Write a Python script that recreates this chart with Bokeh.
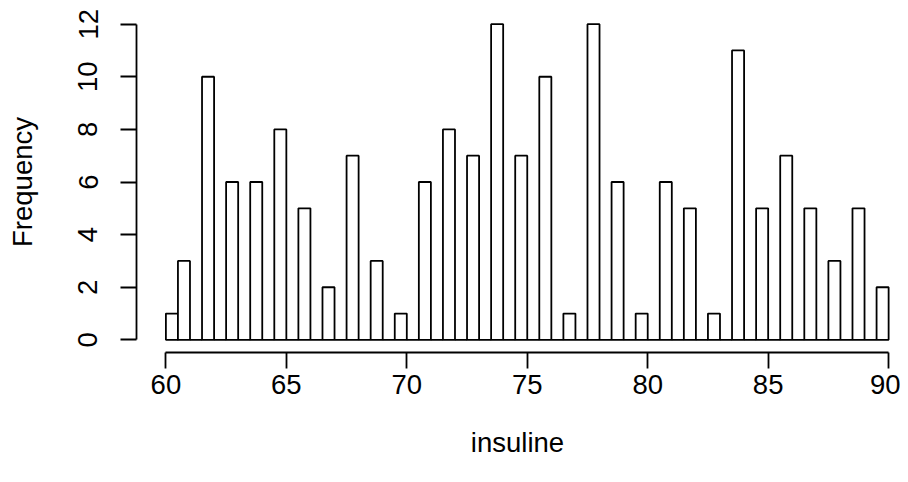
import numpy as np
from bokeh.plotting import figure
from bokeh.models import Range1d, FixedTicker
from bokeh.embed import file_html
from bokeh.resources import INLINE

# Histogram of "insuline": breaks every 0.5 from 60 to 90
break_start = 60.0
break_width = 0.5
counts = [1, 3, 0, 10, 0, 6, 0, 6, 0, 8,
          0, 5, 0, 2, 0, 7, 0, 3, 0, 1,
          0, 6, 0, 8, 0, 7, 0, 12, 0, 7,
          0, 10, 0, 1, 0, 12, 0, 6, 0, 1,
          0, 6, 0, 5, 0, 1, 0, 11, 0, 5,
          0, 7, 0, 5, 0, 3, 0, 5, 0, 2]
x_ticks = [60, 65, 70, 75, 80, 85, 90]
y_ticks = [0, 2, 4, 6, 8, 10, 12]
x_label = "insuline"
y_label = "Frequency"

n = len(counts)
lefts = [break_start + i * break_width for i in range(n)]
rights = [l + break_width for l in lefts]

FONT = "Liberation Sans"
FS = "27.5px"

p = figure(width=900, height=474,
           x_range=Range1d(58.78, 90.41), y_range=Range1d(-0.48, 12.48),
           output_backend="svg", toolbar_location=None,
           min_border_left=136, min_border_top=11, min_border_right=2,
           min_border_bottom=122)
p.outline_line_color = None
p.grid.visible = False
p.background_fill_color = "white"
p.border_fill_color = "white"

p.quad(left=lefts, right=rights, bottom=0, top=counts,
       fill_color="white", line_color="black", line_width=1.8)

for ax, ticks, bounds in ((p.xaxis[0], x_ticks, (60, 90)), (p.yaxis[0], y_ticks, (0, 12))):
    ax.ticker = FixedTicker(ticks=ticks)
    ax.bounds = bounds
    ax.minor_tick_line_color = None
    ax.major_tick_in = 0
    ax.major_tick_out = 16
    ax.axis_line_width = 1.8
    ax.major_tick_line_width = 1.8
    ax.axis_line_color = "black"
    ax.major_tick_line_color = "black"
    ax.major_label_text_font = FONT
    ax.major_label_text_font_size = FS
    ax.major_label_text_color = "black"
    ax.axis_label_text_font = FONT
    ax.axis_label_text_font_size = FS
    ax.axis_label_text_font_style = "normal"
    ax.axis_label_text_color = "black"

p.xaxis.axis_label = x_label
p.yaxis.axis_label = y_label
p.xaxis.major_label_standoff = 6
p.xaxis.axis_label_standoff = 30
p.yaxis.major_label_orientation = "vertical"
p.yaxis.major_label_standoff = 23
p.yaxis.axis_label_standoff = 38

open("out.html", "w").write(file_html(p, INLINE))
